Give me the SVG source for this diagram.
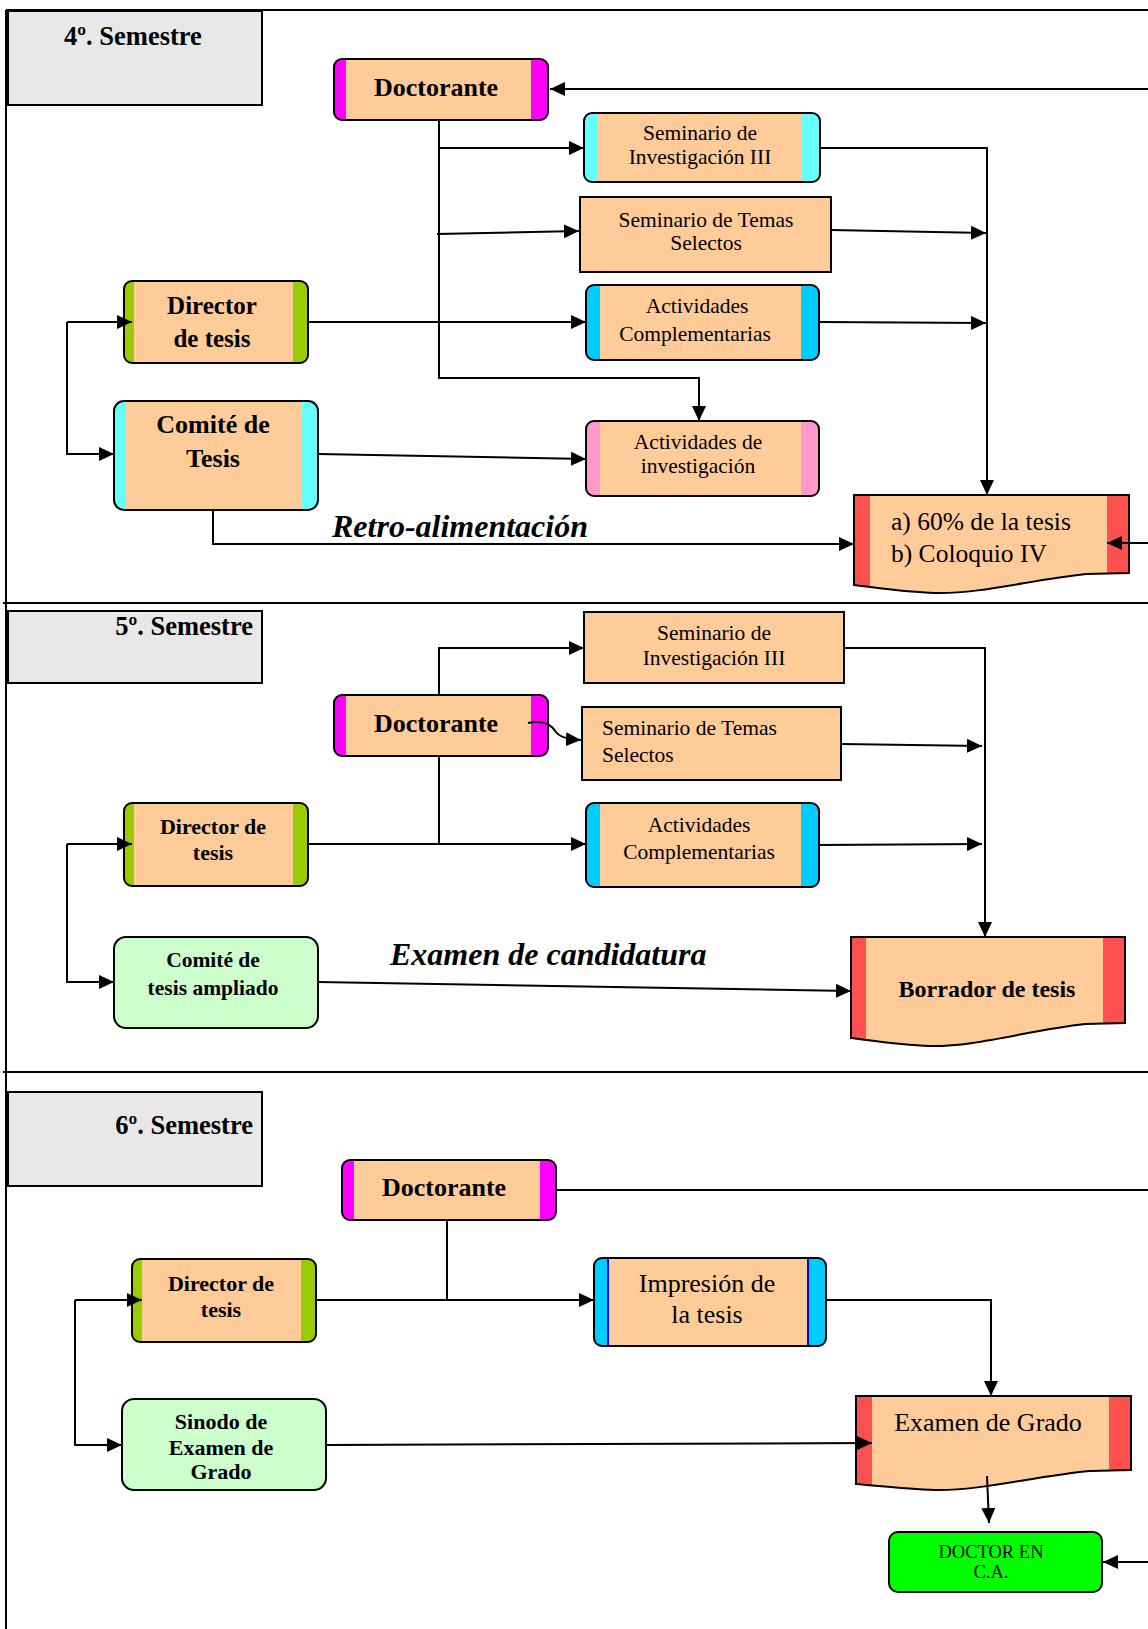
<svg xmlns="http://www.w3.org/2000/svg" width="1148" height="1629" viewBox="0 0 1148 1629">
<style>
.t{font-family:"Liberation Serif","Times New Roman",serif;fill:#000}
.b{font-weight:bold}
.i{font-style:italic}
.c{text-anchor:middle}
.e{text-anchor:end}
.pe{fill:#FFCC99}
.ol{fill:none;stroke:#000;stroke-width:2}
.sem{fill:#E8E8E8;stroke:#000;stroke-width:2}
.frame{fill:none;stroke:#000;stroke-width:2}
#connectors path{fill:none;stroke:#000;stroke-width:2}
.ar{marker-end:url(#ah)}
.mg{fill:#FF00FF}.cy{fill:#66FFFF}.bl{fill:#00CCFF}.gr{fill:#99CC00}.pk{fill:#FF99CC}.rd{fill:#FF5050}
.lg{fill:#CCFFCC;stroke:#000;stroke-width:2}
</style>
<defs>
<marker id="ah" viewBox="0 0 15 14" refX="15" refY="7" markerWidth="15" markerHeight="14" markerUnits="userSpaceOnUse" orient="auto">
<path d="M0,0 L15,7 L0,14 z" fill="#000"/>
</marker>
</defs>
<rect width="1148" height="1629" fill="#fff"/>
<g id="frame">
<path class="frame" d="M6,10 H1148 M6,10 V1629 M3,603 H1148 M3,1072 H1148"/>
</g>

<!-- Section 1 -->
<g id="sem4"><rect class="sem" x="8" y="11" width="254" height="94"/><text class="t b c" x="133" y="45" font-size="26.5">4º. Semestre</text></g>
<g id="doc4"><rect class="mg" x="334" y="59" width="214" height="61" rx="8"/><rect class="pe" x="346" y="59" width="185" height="61"/><rect class="ol" x="334" y="59" width="214" height="61" rx="8"/><text class="t b c" x="436" y="96" font-size="26">Doctorante</text></g>
<g id="seminv4"><rect class="cy" x="584" y="113" width="236" height="69" rx="8"/><rect class="pe" x="598" y="113" width="203" height="69"/><rect class="ol" x="584" y="113" width="236" height="69" rx="8"/><text class="t c" x="700" y="140" font-size="21.5">Seminario de</text><text class="t c" x="700" y="164" font-size="21.5">Investigación III</text></g>
<g id="semtemas4"><rect class="pe" x="580" y="197" width="251" height="75" stroke="#000" stroke-width="2"/><text class="t c" x="706" y="227" font-size="21.5">Seminario de Temas</text><text class="t c" x="706" y="250" font-size="21.5">Selectos</text></g>
<g id="actcompl4"><rect class="bl" x="586" y="285" width="233" height="75" rx="8"/><rect class="pe" x="600" y="285" width="201" height="75"/><rect class="ol" x="586" y="285" width="233" height="75" rx="8"/><text class="t c" x="697" y="313" font-size="21.5">Actividades</text><text class="t c" x="695" y="341" font-size="21.5">Complementarias</text></g>
<g id="actinv4"><rect class="pk" x="586" y="421" width="233" height="75" rx="8"/><rect class="pe" x="600" y="421" width="201" height="75"/><rect class="ol" x="586" y="421" width="233" height="75" rx="8"/><text class="t c" x="698" y="449" font-size="21.5">Actividades de</text><text class="t c" x="698" y="473" font-size="21.5">investigación</text></g>
<g id="dir4"><rect class="gr" x="124" y="281" width="184" height="82" rx="8"/><rect class="pe" x="134" y="281" width="159" height="82"/><rect class="ol" x="124" y="281" width="184" height="82" rx="8"/><text class="t b c" x="212" y="314" font-size="25">Director</text><text class="t b c" x="212" y="347" font-size="25">de tesis</text></g>
<g id="com4"><rect class="cy" x="114" y="401" width="204" height="109" rx="10"/><rect class="pe" x="126" y="401" width="175" height="109"/><rect class="ol" x="114" y="401" width="204" height="109" rx="10"/><text class="t b c" x="213" y="433" font-size="26">Comité de</text><text class="t b c" x="213" y="467" font-size="26">Tesis</text></g>
<g id="doc60"><path class="pe" d="M854,495 H1129 V573 L1086,574 C1030,580 980,594 935,593 C905,592 880,588 854,585 Z"/><path class="rd" d="M854,495 H870 V588 L854,585 Z"/><rect class="rd" x="1107" y="495" width="22" height="78"/><path class="ol" d="M854,495 H1129 V573 L1086,574 C1030,580 980,594 935,593 C905,592 880,588 854,585 Z"/><text class="t" x="891" y="530" font-size="25.5">a) 60% de la tesis</text><text class="t" x="891" y="562" font-size="25.5">b) Coloquio IV</text></g>
<text class="t b i" x="332" y="537" font-size="32">Retro-alimentación</text>

<!-- Section 2 -->
<g id="sem5"><rect class="sem" x="8" y="611" width="254" height="72"/><text class="t b e" x="253" y="635" font-size="26.5">5º. Semestre</text></g>
<g id="doc5"><rect class="mg" x="334" y="695" width="214" height="61" rx="8"/><rect class="pe" x="346" y="695" width="185" height="61"/><rect class="ol" x="334" y="695" width="214" height="61" rx="8"/><text class="t b c" x="436" y="732" font-size="26">Doctorante</text></g>
<g id="seminv5"><rect class="pe" x="584" y="612" width="260" height="71" stroke="#000" stroke-width="2"/><text class="t c" x="714" y="640" font-size="21.5">Seminario de</text><text class="t c" x="714" y="665" font-size="21.5">Investigación III</text></g>
<g id="semtemas5"><rect class="pe" x="582" y="707" width="259" height="73" stroke="#000" stroke-width="2"/><text class="t" x="602" y="735" font-size="21.5">Seminario de Temas</text><text class="t" x="602" y="762" font-size="21.5">Selectos</text></g>
<g id="actcompl5"><rect class="bl" x="586" y="803" width="233" height="84" rx="8"/><rect class="pe" x="600" y="803" width="201" height="84"/><rect class="ol" x="586" y="803" width="233" height="84" rx="8"/><text class="t c" x="699" y="832" font-size="21.5">Actividades</text><text class="t c" x="699" y="859" font-size="21.5">Complementarias</text></g>
<g id="dir5"><rect class="gr" x="124" y="803" width="184" height="83" rx="8"/><rect class="pe" x="134" y="803" width="159" height="83"/><rect class="ol" x="124" y="803" width="184" height="83" rx="8"/><text class="t b c" x="213" y="834" font-size="22">Director de</text><text class="t b c" x="213" y="860" font-size="22">tesis</text></g>
<g id="comamp5"><rect class="lg" x="114" y="937" width="204" height="91" rx="12"/><text class="t b c" x="213" y="967" font-size="21.5">Comité de</text><text class="t b c" x="213" y="995" font-size="21.5">tesis ampliado</text></g>
<g id="borrador"><path class="pe" d="M851,937 H1125 V1023 L1085,1024 C1030,1030 975,1047 930,1046 C900,1045 875,1041 851,1038 Z"/><path class="rd" d="M851,937 H866 V1041 L851,1038 Z"/><rect class="rd" x="1103" y="937" width="22" height="86"/><path class="ol" d="M851,937 H1125 V1023 L1085,1024 C1030,1030 975,1047 930,1046 C900,1045 875,1041 851,1038 Z"/><text class="t b c" x="987" y="997" font-size="24">Borrador de tesis</text></g>
<text class="t b i" x="390" y="965" font-size="32">Examen de candidatura</text>

<!-- Section 3 -->
<g id="sem6"><rect class="sem" x="8" y="1092" width="254" height="94"/><text class="t b e" x="253" y="1134" font-size="26.5">6º. Semestre</text></g>
<g id="doc6"><rect class="mg" x="342" y="1160" width="214" height="60" rx="8"/><rect class="pe" x="354" y="1160" width="186" height="60"/><rect class="ol" x="342" y="1160" width="214" height="60" rx="8"/><text class="t b c" x="444" y="1196" font-size="26">Doctorante</text></g>
<g id="dir6"><rect class="gr" x="132" y="1259" width="184" height="83" rx="8"/><rect class="pe" x="142" y="1259" width="159" height="83"/><rect class="ol" x="132" y="1259" width="184" height="83" rx="8"/><text class="t b c" x="221" y="1291" font-size="22">Director de</text><text class="t b c" x="221" y="1317" font-size="22">tesis</text></g>
<g id="sinodo"><rect class="lg" x="122" y="1399" width="204" height="91" rx="12"/><text class="t b c" x="221" y="1429" font-size="22">Sinodo de</text><text class="t b c" x="221" y="1455" font-size="22">Examen de</text><text class="t b c" x="221" y="1479" font-size="22">Grado</text></g>
<g id="impresion"><rect class="bl" x="594" y="1258" width="232" height="88" rx="8"/><rect class="pe" x="608" y="1258" width="200" height="88" stroke="#0000FF" stroke-width="2"/><rect class="ol" x="594" y="1258" width="232" height="88" rx="8"/><text class="t c" x="707" y="1292" font-size="26">Impresión de</text><text class="t c" x="707" y="1323" font-size="26">la tesis</text></g>
<g id="examen"><path class="pe" d="M856,1396 H1131 V1470 L1090,1471 C1035,1476 980,1491 935,1490 C905,1489 880,1486 856,1484 Z"/><path class="rd" d="M856,1396 H872 V1486 L856,1484 Z"/><rect class="rd" x="1109" y="1396" width="22" height="74"/><path class="ol" d="M856,1396 H1131 V1470 L1090,1471 C1035,1476 980,1491 935,1490 C905,1489 880,1486 856,1484 Z"/><text class="t c" x="988" y="1431" font-size="26">Examen de Grado</text></g>
<g id="doctor"><rect x="889" y="1532" width="213" height="60" rx="9" fill="#00FF00" stroke="#000" stroke-width="2"/><text class="t c" x="991" y="1558" font-size="18.5">DOCTOR EN</text><text class="t c" x="991" y="1578" font-size="18.5">C.A.</text></g>

<g id="connectors">
<path class="ar" d="M1148,89 H550"/>
<path class="ar" d="M439,120 V378 H699 V421"/>
<path class="ar" d="M439,148 H584"/>
<path class="ar" d="M437,234 L579,231"/>
<path class="ar" d="M308,322 H586"/>
<path class="ar" d="M67,322 H132"/>
<path class="ar" d="M67,322 V454 H114"/>
<path class="ar" d="M318,454 L586,459"/>
<path class="ar" d="M213,510 V544 H854"/>
<path class="ar" d="M820,148 H987 V495"/>
<path class="ar" d="M831,230 L986,233"/>
<path class="ar" d="M819,322 L986,323"/>
<path class="ar" d="M1148,543 H1107"/>

<path class="ar" d="M439,695 V648 H584"/>
<path class="ar" d="M528,723 Q548,719 556,732 Q561,739 581,740"/>
<path d="M439,756 V844"/>
<path class="ar" d="M308,844 H586"/>
<path class="ar" d="M67,844 H132"/>
<path class="ar" d="M67,844 V982 H114"/>
<path class="ar" d="M318,982 L851,991"/>
<path class="ar" d="M844,648 H985 V937"/>
<path class="ar" d="M841,744 L982,746"/>
<path class="ar" d="M819,845 L982,844"/>

<path d="M556,1190 H1148"/>
<path d="M447,1220 V1300"/>
<path class="ar" d="M316,1300 H594"/>
<path class="ar" d="M75,1300 H142"/>
<path class="ar" d="M75,1300 V1445 H122"/>
<path class="ar" d="M326,1445 L872,1443"/>
<path class="ar" d="M826,1300 H991 V1396"/>
<path class="ar" d="M987,1476 L989,1523"/>
<path class="ar" d="M1148,1562 H1103"/>
</g>
</svg>
